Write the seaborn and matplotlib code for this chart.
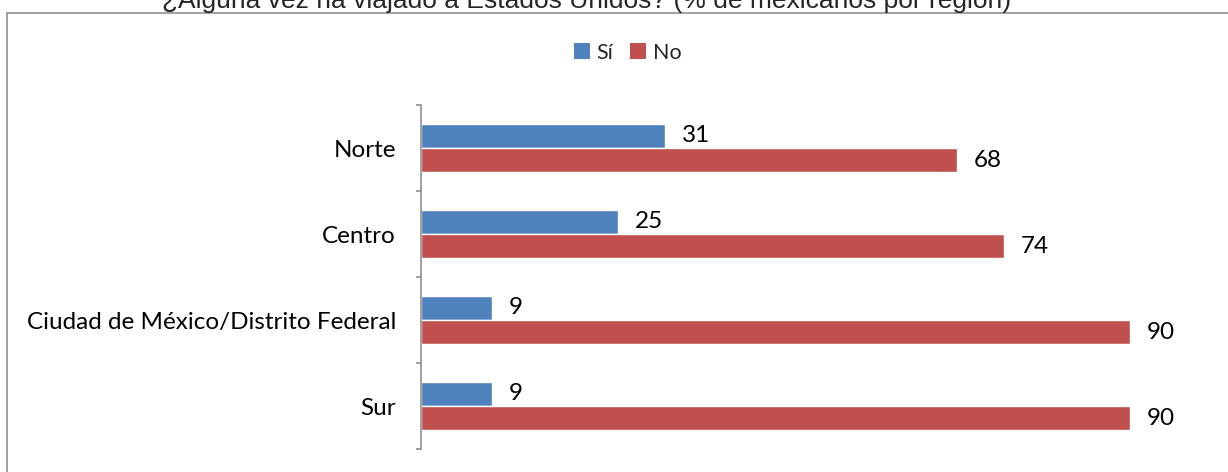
import pandas as pd
import seaborn as sns
import matplotlib.pyplot as plt
from matplotlib.patches import Rectangle, Patch

regiones = ["Norte", "Centro", "Ciudad de México/Distrito Federal", "Sur"]
si = [31, 25, 9, 9]
no = [68, 74, 90, 90]
respuestas = ["Sí", "No"]
colores = ["#4F81BD", "#C0504D"]
titulo = "¿Alguna vez ha viajado a Estados Unidos? (% de mexicanos por región)"

df = pd.DataFrame({
    "region": regiones * 2,
    "respuesta": ["Sí"] * len(regiones) + ["No"] * len(regiones),
    "pct": si + no,
})

sns.set_theme(style="white")
plt.rcParams["font.family"] = ["Lato", "DejaVu Sans"]

fig = plt.figure(figsize=(12.28, 4.72), dpi=100)
ax = fig.add_axes([0.3428, 0.0487, 0.6419, 0.7288])

sns.barplot(data=df, y="region", x="pct", hue="respuesta", order=regiones,
            hue_order=respuestas, palette=colores, orient="h", width=0.565,
            saturation=1, legend=False, ax=ax)

for cont in ax.containers:
    ax.bar_label(cont, fmt="%d", padding=12, fontsize=17.5, color="black")

ax.set_xlim(0, 100)
ax.set_ylim(3.5, -0.5)
ax.xaxis.set_visible(False)
ax.set_ylabel("")
for s in ["top", "right", "bottom"]:
    ax.spines[s].set_visible(False)
ax.spines["left"].set_color("#868686")
ax.spines["left"].set_linewidth(1.1)
ax.set_yticks([-0.5, 0.5, 1.5, 2.5, 3.5], minor=True)
ax.tick_params(axis="y", which="major", length=0, pad=18, labelsize=17.5, labelcolor="black")
ax.tick_params(axis="y", which="minor", length=3.6, width=1.1, color="#868686", left=True)

handles = [Patch(facecolor=c, edgecolor="none") for c in colores]
fig.legend(handles, respuestas, loc="center", bbox_to_anchor=(0.511, 0.888), ncol=2,
           frameon=False, fontsize=15.5, handlelength=0.75, handleheight=0.75,
           handletextpad=0.3, columnspacing=0.8)

fig.text(0.478, 1 - 8 / 472, titulo, ha="center", va="baseline", fontsize=19,
         family="Liberation Sans")

fig.patches.append(Rectangle((7 / 1228, -0.1), 1.2, 1 - 12.5 / 472 + 0.1,
                             transform=fig.transFigure, fill=False,
                             edgecolor="#868686", lw=1.1))

plt.savefig("out.png", dpi=100)
